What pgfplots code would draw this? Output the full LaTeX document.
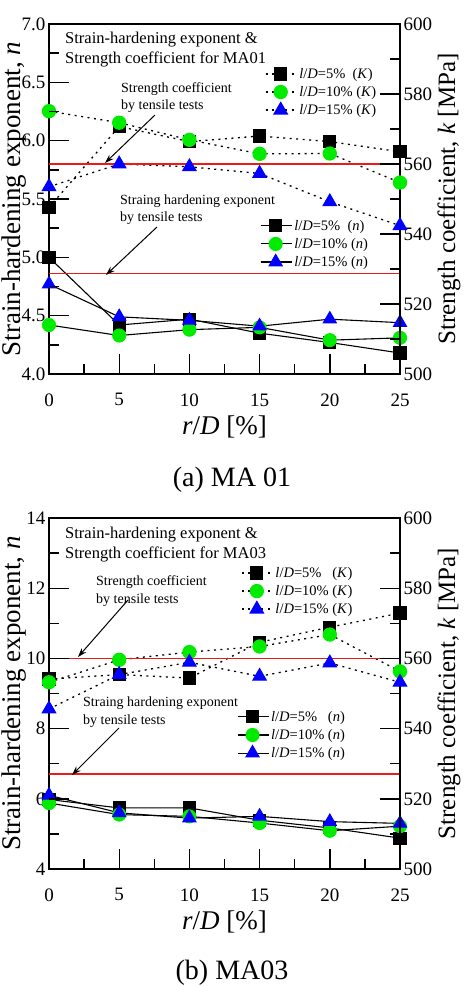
\documentclass[border=0pt]{standalone}
\usepackage{fontspec}
\setmainfont{Liberation Serif}
\usepackage{pgfplots}
\pgfplotsset{compat=1.18}
\usetikzlibrary{arrows.meta}

\definecolor{mkgreen}{RGB}{0,235,0}
\definecolor{mkblue}{RGB}{0,0,255}

\pgfplotsset{
  panel/.style={
    scale only axis, width=351pt,
    xmin=0, xmax=25,
    axis line style={line width=1.3pt},
    tick align=inside,
    major tick length=20pt, minor tick length=10pt,
    every major tick/.append style={line width=1.2pt, black},
    every minor tick/.append style={line width=1.2pt, black},
    tick label style={font=\fontsize{19}{19}\selectfont},
    /pgf/number format/assume math mode=true,
  },
  leftax/.style={
    panel,
    xtick={0,5,10,15,20,25}, minor x tick num=1,
    xtick pos=left, ytick pos=left,
    minor y tick num=1,
    xticklabel shift=16pt,
    xlabel={\textit{r}/\textit{D} [\%]},
    xlabel style={at={(rel axis cs:0.5,-0.151)}, anchor=center, font=\fontsize{27}{27}\selectfont},
    ylabel={Strain-hardening exponent, \textit{n}},
    ylabel style={at={(rel axis cs:-0.0798,0.5)}, anchor=base, inner sep=0pt, font=\fontsize{27}{27}\selectfont},
  },
  rightax/.style={
    panel,
    axis y line*=right, axis x line=none,
    ymin=500, ymax=600, ytick={500,520,540,560,580,600}, minor y tick num=1,
    ylabel={Strength coefficient, \textit{k} [MPa]},
    ylabel style={at={(rel axis cs:1.157,0.5)}, anchor=base, inner sep=0pt, font=\fontsize{25}{25}\selectfont},
  },
  nline/.style={black, line width=1.1pt, solid},
  kline/.style={black, line width=1.3pt, dash pattern=on 2pt off 4.5pt},
  sqmk/.style={mark=square*, mark size=6pt, mark options={solid, fill=black, draw=black}},
  cimk/.style={mark=*, mark size=6.5pt, mark options={solid, fill=mkgreen, draw=mkgreen}},
  trmk/.style={mark=triangle*, mark size=7.5pt, mark options={solid, fill=mkblue, draw=mkblue}},
  refline/.style={draw={rgb,255:red,240;green,25;blue,25}, line width=1.6pt, solid, no marks, forget plot},
  lgd/.style={
    legend image code/.code={%
      \draw[##1, mark repeat=2, mark phase=2] plot coordinates {(0pt,0pt) (15pt,0pt) (31pt,0pt)};},
    legend style={draw=none, fill=none, anchor=north west, inner sep=0pt,
      font=\fontsize{14.5}{16}\selectfont, row sep=2.5pt,
      legend cell align=left}},
}

\newcommand{\ld}[2]{\textit{l}/\textit{D}=#1 (\textit{#2})}

% inward tick marks as thin filled bars: odd ones short (minor), even ones long (major)
\newcommand{\vticks}[5]{% x, y0, step, count, direction (+1 right / -1 left)
  \foreach \i in {1,...,#4}{%
    \pgfmathsetmacro\L{(isodd(\i) ? 10 : 20)*#5}%
    \pgfmathsetmacro\Y{#2+\i*#3}%
    \fill[black] (#1pt,\Y pt-0.7pt) rectangle ++(\L pt,1.4pt);}}
\newcommand{\hticks}[4]{% x0, y, step, count (pointing up)
  \foreach \i in {1,...,#4}{%
    \pgfmathsetmacro\L{isodd(\i) ? 10 : 20}%
    \pgfmathsetmacro\X{#1+\i*#3}%
    \fill[black] (\X pt-0.7pt,#2pt) rectangle ++(1.4pt,\L pt);}}

\begin{document}
\begin{tikzpicture}
% page frame
\path (0,0) rectangle (469pt,-986pt);

% ---------------- (a) MA01 ----------------
\begin{axis}[leftax, at={(49pt,-374pt)}, anchor=south west, height=350pt,
  ymin=4, ymax=7, ytick={4,4.5,5,5.5,6,6.5,7},
  yticklabels={4.0,4.5,5.0,5.5,6.0,6.5,7.0},
  lgd, legend style={at={(0.601,0.446)}}]
\addplot[nline, sqmk] coordinates {(0,5.0) (5,4.42) (10,4.47) (15,4.35) (20,4.27) (25,4.18)};
\addplot[nline, cimk] coordinates {(0,4.42) (5,4.33) (10,4.38) (15,4.40) (20,4.29) (25,4.31)};
\addplot[nline, trmk] coordinates {(0,4.77) (5,4.49) (10,4.46) (15,4.41) (20,4.47) (25,4.44)};
\addplot[refline] coordinates {(0,4.86) (25,4.86)};
\legend{\ld{5\%\ }{n}, \ld{10\%}{n}, \ld{15\%}{n}}
\end{axis}
\begin{axis}[rightax, at={(49pt,-374pt)}, anchor=south west, height=350pt,
  lgd, legend style={at={(0.615,0.88)}}]
\addplot[kline, sqmk] coordinates {(0,547.6) (5,570.7) (10,566.4) (15,568.0) (20,566.4) (25,563.5)};
\addplot[kline, cimk] coordinates {(0,575.1) (5,571.8) (10,566.9) (15,562.9) (20,563.0) (25,554.7)};
\addplot[kline, trmk] coordinates {(0,553.5) (5,560.0) (10,559.2) (15,557.3) (20,549.2) (25,542.4)};
\addplot[refline] coordinates {(0,560) (25,560)};
\legend{\ld{5\%\ }{K}, \ld{10\%}{K}, \ld{15\%}{K}}
\end{axis}

% ---------------- (b) MA03 ----------------
\begin{axis}[leftax, at={(49pt,-869pt)}, anchor=south west, height=351pt,
  ymin=4, ymax=14, ytick={4,6,8,10,12,14},
  lgd, legend style={at={(0.535,0.456)}}]
\addplot[nline, sqmk] coordinates {(0,5.98) (5,5.74) (10,5.74) (15,5.39) (20,5.17) (25,4.88)};
\addplot[nline, cimk] coordinates {(0,5.88) (5,5.55) (10,5.50) (15,5.31) (20,5.09) (25,5.22)};
\addplot[nline, trmk] coordinates {(0,6.10) (5,5.60) (10,5.45) (15,5.50) (20,5.35) (25,5.30)};
\addplot[refline] coordinates {(0,6.7) (25,6.7)};
\legend{\ld{5\%\ \ }{n}, \ld{10\%}{n}, \ld{15\%}{n}}
\end{axis}
\begin{axis}[rightax, at={(49pt,-869pt)}, anchor=south west, height=351pt,
  lgd, legend style={at={(0.547,0.866)}}]
\addplot[kline, sqmk] coordinates {(0,554.1) (5,555.4) (10,554.4) (15,564.6) (20,568.9) (25,572.9)};
\addplot[kline, cimk] coordinates {(0,553.2) (5,559.6) (10,561.8) (15,563.4) (20,566.8) (25,556.3)};
\addplot[kline, trmk] coordinates {(0,545.6) (5,555.4) (10,558.9) (15,554.9) (20,558.7) (25,553.2)};
\addplot[refline] coordinates {(0,560) (25,560)};
\legend{\ld{5\%\ \ }{K}, \ld{10\%}{K}, \ld{15\%}{K}}
\end{axis}

% ---------------- tick marks ----------------
\vticks{49}{-374}{29.1667}{11}{1}
\vticks{400}{-374}{35}{9}{-1}
\hticks{49}{-374}{35.1}{9}
\vticks{49}{-869}{35.1}{9}{1}
\vticks{400}{-869}{35.1}{9}{-1}
\hticks{49}{-869}{35.1}{9}

% ---------------- annotations ----------------
\begin{scope}[every node/.style={inner sep=0pt}]
\node[anchor=base west, font=\fontsize{16.5}{18}\selectfont] at (65pt,-43pt) {Strain-hardening exponent \&};
\node[anchor=base west, font=\fontsize{16.5}{18}\selectfont] at (65pt,-63pt) {Strength coefficient for MA01};
\node[anchor=base west, font=\fontsize{14}{15}\selectfont] at (121pt,-92.5pt) {Strength coefficient};
\node[anchor=base west, font=\fontsize{14}{15}\selectfont] at (121pt,-109.5pt) {by tensile tests};
\node[anchor=base west, font=\fontsize{14}{15}\selectfont] at (120pt,-204.5pt) {Straing hardening exponent};
\node[anchor=base west, font=\fontsize{14}{15}\selectfont] at (120pt,-221.5pt) {by tensile tests};
\draw[-{Stealth[length=9pt,width=6pt]}, line width=1pt] (155pt,-115pt) -- (105pt,-163pt);
\draw[-{Stealth[length=9pt,width=6pt]}, line width=1pt] (157pt,-227pt) -- (106pt,-275pt);
\node[font=\fontsize{28}{28}\selectfont] at (232pt,-480pt) {(a) MA 01};

\node[anchor=base west, font=\fontsize{16.5}{18}\selectfont] at (65pt,-538pt) {Strain-hardening exponent \&};
\node[anchor=base west, font=\fontsize{16.5}{18}\selectfont] at (65pt,-558pt) {Strength coefficient for MA03};
\node[anchor=base west, font=\fontsize{14}{15}\selectfont] at (96pt,-585.5pt) {Strength coefficient};
\node[anchor=base west, font=\fontsize{14}{15}\selectfont] at (96pt,-603.5pt) {by tensile tests};
\node[anchor=base west, font=\fontsize{14}{15}\selectfont] at (83pt,-706.5pt) {Straing hardening exponent};
\node[anchor=base west, font=\fontsize{14}{15}\selectfont] at (83pt,-724.5pt) {by tensile tests};
\draw[-{Stealth[length=9pt,width=6pt]}, line width=1pt] (128pt,-600pt) -- (78pt,-657pt);
\draw[-{Stealth[length=9pt,width=6pt]}, line width=1pt] (119pt,-728pt) -- (72pt,-775pt);
\node[font=\fontsize{28}{28}\selectfont] at (232pt,-973pt) {(b) MA03};
\end{scope}
\end{tikzpicture}
\end{document}
